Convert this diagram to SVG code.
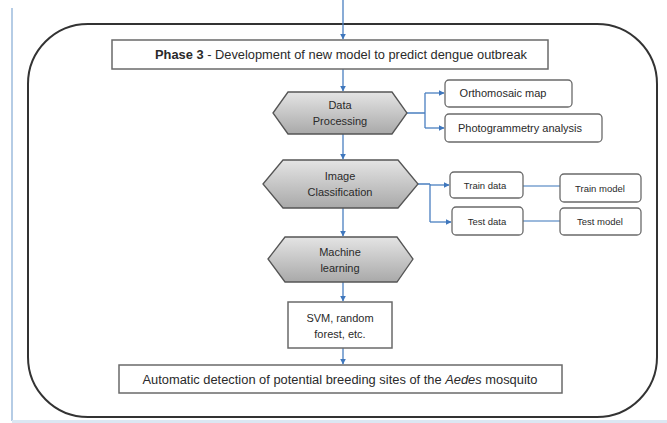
<svg xmlns="http://www.w3.org/2000/svg" width="667" height="423" viewBox="0 0 667 423">
<defs>
<linearGradient id="hexg" x1="0" y1="0" x2="0" y2="1">
<stop offset="0" stop-color="#e4e4e4"/>
<stop offset="1" stop-color="#a9a9a9"/>
</linearGradient>
<marker id="ah" viewBox="0 0 10 10" refX="9" refY="5" markerWidth="6" markerHeight="6" orient="auto" markerUnits="userSpaceOnUse">
<path d="M0,0 L10,5 L0,10 Z" fill="#3f77bd"/>
</marker>
<style>
.box{fill:#fff;stroke:#6a6a6a;stroke-width:1.5}
.rbox{fill:#fff;stroke:#6a6a6a;stroke-width:1.3}
.hex{fill:url(#hexg);stroke:#555;stroke-width:1.3}
.t{font-family:"Liberation Sans",Arial,sans-serif;fill:#2a2a2a;text-anchor:middle}
.s{font-size:11px}
.m{font-size:9.5px}
.c{fill:none;stroke:#4a7fc0;stroke-width:1.3}
.cl{fill:none;stroke:#7aa2d0;stroke-width:1.3}
</style>
</defs>
<rect x="0" y="0" width="667" height="423" fill="#fff"/>
<line x1="12" y1="8" x2="12" y2="421" stroke="#9dbbdc" stroke-width="1.5"/>
<rect x="12" y="420" width="655" height="3" fill="#dbe7f2"/>
<rect id="frame" x="28" y="24" width="629" height="393" rx="60" ry="60" fill="none" stroke="#333" stroke-width="2"/>

<g id="connectors">
<path class="c" d="M343,0 V39" marker-end="url(#ah)"/>
<path class="c" d="M343,69 V91" marker-end="url(#ah)"/>
<path class="c" d="M407,113 H425 M425,93 V128"/>
<path class="c" d="M425,93 H444" marker-end="url(#ah)"/>
<path class="c" d="M425,128 H444" marker-end="url(#ah)"/>
<path class="c" d="M343,134 V159" marker-end="url(#ah)"/>
<path class="c" d="M418,184 H430 M430,184 V222"/>
<path class="c" d="M430,185 H449" marker-end="url(#ah)"/>
<path class="c" d="M430,222 H451" marker-end="url(#ah)"/>
<path class="cl" d="M523,186 H560"/>
<path class="cl" d="M523,221 H560"/>
<path class="c" d="M343,208 V236" marker-end="url(#ah)"/>
<path class="c" d="M343,282 V301" marker-end="url(#ah)"/>
<path class="c" d="M343,348 V364" marker-end="url(#ah)"/>
</g>

<g id="phase3">
<rect class="box" x="112" y="40" width="436" height="29"/>
<text class="t" x="341" y="59" font-size="12.5" textLength="372" lengthAdjust="spacingAndGlyphs"><tspan font-weight="bold">Phase 3</tspan> - Development of new model to predict dengue outbreak</text>
</g>

<g id="data-processing">
<polygon class="hex" points="273,113 288,92 392,92 407,113 392,134 288,134"/>
<text class="t s" x="340" y="109">Data</text>
<text class="t s" x="340" y="125">Processing</text>
</g>

<g id="orthomosaic">
<rect class="rbox" x="445" y="80" width="127" height="27" rx="4"/>
<text class="t s" x="503" y="97">Orthomosaic map</text>
</g>

<g id="photogrammetry">
<rect class="rbox" x="445" y="114" width="157" height="28" rx="4"/>
<text class="t s" x="520" y="132">Photogrammetry analysis</text>
</g>

<g id="image-classification">
<polygon class="hex" points="263,184 283,160 398,160 418,184 398,208 283,208"/>
<text class="t s" x="340" y="180">Image</text>
<text class="t s" x="340" y="196">Classification</text>
</g>

<g id="train-data">
<rect class="rbox" x="450" y="172" width="73" height="26" rx="4"/>
<text class="t m" x="485" y="189">Train data</text>
</g>

<g id="train-model">
<rect class="rbox" x="560" y="174" width="81" height="28" rx="4"/>
<text class="t m" x="600" y="192">Train model</text>
</g>

<g id="test-data">
<rect class="rbox" x="452" y="207" width="71" height="28" rx="4"/>
<text class="t m" x="487" y="225">Test data</text>
</g>

<g id="test-model">
<rect class="rbox" x="560" y="208" width="81" height="27" rx="4"/>
<text class="t m" x="600" y="225">Test model</text>
</g>

<g id="machine-learning">
<polygon class="hex" points="268,259 285,237 397,237 413,259 397,282 285,282"/>
<text class="t s" x="340" y="256">Machine</text>
<text class="t s" x="340" y="272">learning</text>
</g>

<g id="svm">
<rect class="box" x="288" y="302" width="104" height="46"/>
<text class="t s" x="340" y="322">SVM, random</text>
<text class="t s" x="340" y="338">forest, etc.</text>
</g>

<g id="detection">
<rect class="box" x="119" y="365" width="443" height="28"/>
<text class="t" x="340" y="384" font-size="12.5" textLength="395" lengthAdjust="spacingAndGlyphs">Automatic detection of potential breeding sites of the <tspan font-style="italic">Aedes</tspan> mosquito</text>
</g>
</svg>
